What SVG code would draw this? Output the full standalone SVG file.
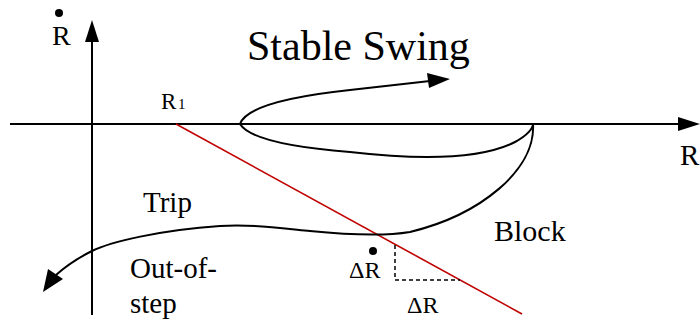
<svg xmlns="http://www.w3.org/2000/svg" width="700" height="326" viewBox="0 0 700 326">
<rect width="700" height="326" fill="#fff"/>
<g id="axes" stroke="#000" stroke-width="2" fill="none">
<line x1="10" y1="124" x2="682" y2="124"/>
<polygon points="700,124 678,117 678,131" fill="#000" stroke="none"/>
<line x1="92" y1="315" x2="92" y2="38"/>
<polygon points="92,20 85,42 99,42" fill="#000" stroke="none"/>
</g>
<g id="connectors" fill="none" stroke="#000" stroke-width="2">
<line x1="176" y1="124" x2="522" y2="314" stroke="#c00000" stroke-width="1.6"/>
<polyline points="395,245 395,280 460,280" stroke-width="1.5" stroke-dasharray="4,3"/>
<path d="M 240,124 C 245,110 275,98 350,90 L 430,81"/>
<polygon points="450,79 427,73 429,88" fill="#000" stroke="none"/>
<path d="M 240,124 C 250,140 300,148 350,152 C 420,160 480,160 515,142 C 528,135 533,128 533,124"/>
<path d="M 533,124 C 536,170 480,215 410,232 C 380,237 340,234 310,231 C 280,228 250,224 220,226 C 160,230 110,242 92,251 C 78,258 66,266 56,275"/>
<polygon points="43,292 48,269 63,279" fill="#000" stroke="none"/>
</g>
<circle cx="59" cy="13" r="4" fill="#000"/>
<circle cx="373" cy="251" r="4" fill="#000"/>
<text x="52" y="45" font-size="28" font-family="Liberation Serif">R</text>
<text x="680" y="165" font-size="29" font-family="Liberation Serif">R</text>
<text x="161" y="109" font-size="23" font-family="Liberation Serif">R</text>
<text x="178" y="109" font-size="15" font-family="Liberation Serif">1</text>
<text x="247" y="60" font-size="42" font-family="Liberation Serif">Stable Swing</text>
<text x="143" y="212" font-size="29" font-family="Liberation Serif">Trip</text>
<text x="130" y="278" font-size="29" font-family="Liberation Serif">Out-of-</text>
<text x="130" y="313" font-size="29" font-family="Liberation Serif">step</text>
<text x="494" y="241" font-size="30" font-family="Liberation Serif">Block</text>
<text x="349" y="278" font-size="24" font-family="Liberation Serif">ΔR</text>
<text x="407" y="313" font-size="24" font-family="Liberation Serif">ΔR</text>
</svg>
